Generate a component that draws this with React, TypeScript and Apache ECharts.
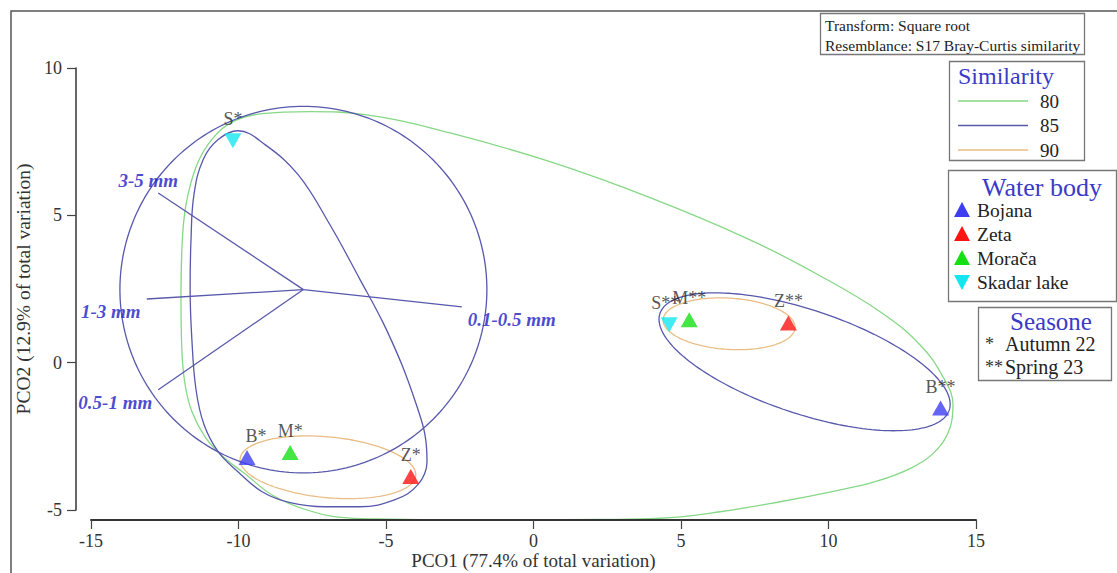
import { useEffect, useRef } from "react";
import * as echarts from "echarts";

// PCO ordination of sediment grain-size composition by water body and season
const SERIF = "'Liberation Serif', 'Times New Roman', serif";

const sampleLabels = ["B*", "Z*", "M*", "S*", "B**", "Z**", "M**", "S**"];
const sampleBody = [0, 1, 2, 3, 0, 1, 2, 3];
const pco1 = [-9.71, -4.16, -8.25, -10.19, 13.8, 8.64, 5.28, 4.6];
const pco2 = [-3.22, -3.86, -3.05, 7.53, -1.54, 1.35, 1.46, 1.29];

const waterBodies = ["Bojana", "Zeta", "Morača", "Skadar lake"];
const waterColors = ["#3d3df2", "#ff1414", "#14e014", "#14e6f0"];
const seasons = ["Autumn 22", "Spring 23"];
const seasonMarks = ["*", "**"];

// Grain-size vectors (origin and tips in PCO space)
const vectorOrigin = [-7.8, 2.48];
const vectorNames = ["3-5 mm", "1-3 mm", "0.5-1 mm", "0.1-0.5 mm"];
const vectorX = [-12.72, -13.11, -12.72, -2.43];
const vectorY = [5.76, 2.16, -0.92, 1.89];
const vectorCircleRadius = 6.22;

// Similarity contours
const similarityLevels = [80, 85, 90];
const levelColors = ["#86d886", "#5858ac", "#e9bd84"];

// 85% group around the autumn samples (outline)
const c85aX = [
  -5.1, -4.46, -3.95, -3.68, -3.61, -3.92, -4.69, -5.88, -7.07, -8.25, -9.2,
  -10.02, -10.69, -11.17, -11.44, -11.58, -11.64, -11.61, -11.51, -11.2,
  -10.69, -10.02, -9.1, -7.98, -6.9, -5.88,
];
const c85aY = [
  1.36, -0.07, -1.49, -2.44, -3.36, -4.14, -4.65, -4.89, -4.89, -4.75, -4.38,
  -3.7, -3.02, -2.1, -0.92, 0.78, 2.48, 4.17, 5.7, 6.89, 7.57, 7.87, 7.4, 6.38,
  4.68, 2.82,
];

// 85% group around the spring samples: centre, semi-axes, rotation (deg)
const c85bCentre = [9.19, 0.03];
const c85bAxes = [5.17, 1.76];
const c85bRot = -18.5;

// 90% groups
const c90cx = [-6.97, 6.63];
const c90cy = [-3.55, 1.32];
const c90a = [2.99, 2.24];
const c90b = [1.03, 0.87];
const c90rot = [-5.5, -3.6];

// 80% group outline
const c80x = [
  -11.95, -11.92, -11.78, -11.41, -10.86, -10.19, -9.2, -7.58, -5.71, -2.83,
  0.56, 3.95, 7.34, 9.71, 11.75, 13.1, 13.88, 14.22, 14.12, 13.68, 12.83,
  11.58, 10.29, 8.36, 6.32, 4.29, 2.25, -0.12, -2.83, -4.86, -6.32, -7.68,
  -8.83, -9.78, -10.56, -11.14, -11.58, -11.81, -11.92,
];
const c80y = [
  2.14, 3.83, 5.36, 6.72, 7.63, 8.18, 8.45, 8.52, 8.42, 7.8, 6.82, 5.6, 4.17,
  2.95, 1.73, 0.61, -0.48, -1.43, -2.21, -2.95, -3.56, -4.04, -4.34, -4.72,
  -5.06, -5.28, -5.32, -5.33, -5.33, -5.31, -5.27, -5.0, -4.51, -3.77, -3.16,
  -2.51, -1.66, -0.75, 0.44,
];

function ellipse(cx: number, cy: number, a: number, b: number, deg: number, n = 180) {
  const t = (deg * Math.PI) / 180;
  const pts: number[][] = [];
  for (let i = 0; i <= n; i++) {
    const u = (2 * Math.PI * i) / n;
    const x = a * Math.cos(u);
    const y = b * Math.sin(u);
    pts.push([cx + x * Math.cos(t) - y * Math.sin(t), cy + x * Math.sin(t) + y * Math.cos(t)]);
  }
  return pts;
}

function closed(xs: number[], ys: number[]) {
  const pts = xs.map((x, i) => [x, ys[i]]);
  pts.push(pts[0], pts[1]);
  return pts;
}

function contourSeries(data: number[][], color: string, smooth: number | boolean = false) {
  return {
    type: "line",
    data,
    smooth,
    symbol: "none",
    showSymbol: false,
    silent: true,
    clip: false,
    z: 2,
    lineStyle: { color, width: 1.3 },
  };
}

const vectorLabelOffsets = [
  [-10, -12],
  [-36, 12],
  [-43, 13],
  [50, 13],
];
const sampleLabelOffsets: Record<string, number[]> = { "B*": [9, 0], "S**": [-4, 0] };

function triangle(cx: number, cy: number, down: boolean) {
  return down
    ? [[cx - 8, cy - 7], [cx + 8, cy - 7], [cx, cy + 8]]
    : [[cx - 8, cy + 7], [cx + 8, cy + 7], [cx, cy - 8]];
}

export default function App() {
  const ref = useRef<HTMLDivElement>(null);

  useEffect(() => {
    if (!ref.current) return;
    const chart = echarts.init(ref.current, undefined, { renderer: "svg" });

    const series: any[] = [];

    // 80% outline
    series.push(contourSeries(closed(c80x, c80y), levelColors[0], 0.4));

    // 85% groups
    series.push(contourSeries(closed(c85aX, c85aY), levelColors[1], 0.4));
    series.push(
      contourSeries(
        ellipse(c85bCentre[0], c85bCentre[1], c85bAxes[0], c85bAxes[1], c85bRot),
        levelColors[1]
      )
    );
    // 90% groups
    c90cx.forEach((cx, i) => {
      series.push(contourSeries(ellipse(cx, c90cy[i], c90a[i], c90b[i], c90rot[i]), levelColors[2]));
    });

    // vector circle
    series.push(
      contourSeries(
        ellipse(vectorOrigin[0], vectorOrigin[1], vectorCircleRadius, vectorCircleRadius, 0, 240),
        levelColors[1]
      )
    );

    // vectors
    vectorNames.forEach((_, i) => {
      series.push({
        type: "line",
        data: [vectorOrigin, [vectorX[i], vectorY[i]]],
        symbol: "none",
        silent: true,
        clip: false,
        z: 2,
        lineStyle: { color: levelColors[1], width: 1.3 },
      });
    });
    series.push({
      type: "scatter",
      symbolSize: 0,
      silent: true,
      z: 4,
      data: vectorNames.map((name, i) => ({
        value: [vectorX[i], vectorY[i]],
        name,
        label: { offset: vectorLabelOffsets[i] },
      })),
      label: {
        show: true,
        position: "inside",
        formatter: "{b}",
        fontFamily: SERIF,
        fontStyle: "italic",
        fontWeight: "bold",
        fontSize: 19,
        color: "#1a1ac4",
      },
    });

    // samples, one series per water body
    waterBodies.forEach((body, w) => {
      const idx = sampleBody.map((b, i) => (b === w ? i : -1)).filter((i) => i >= 0);
      series.push({
        type: "scatter",
        name: body,
        symbol: "triangle",
        symbolRotate: w === 3 ? 180 : 0,
        symbolSize: [17, 15],
        silent: true,
        z: 5,
        itemStyle: { color: waterColors[w] },
        data: idx.map((i) => ({
          value: [pco1[i], pco2[i]],
          name: sampleLabels[i],
          label: { offset: sampleLabelOffsets[sampleLabels[i]] || [0, 0] },
        })),
        label: {
          show: true,
          position: "top",
          distance: 5,
          formatter: "{b}",
          fontFamily: SERIF,
          fontSize: 18,
          color: "#2a2a2a",
        },
      });
    });

    const graphic: any[] = [];
    // outer frame
    graphic.push({
      type: "rect",
      silent: true,
      z: -10,
      shape: { x: 11, y: 11, width: 1300, height: 800 },
      style: { fill: "none", stroke: "#555", lineWidth: 1.5 },
    });

    // transform / resemblance box
    graphic.push({
      type: "rect",
      silent: true,
      shape: { x: 820.5, y: 13.5, width: 264, height: 41 },
      style: { fill: "#fff", stroke: "#777", lineWidth: 1.3 },
    });
    ["Transform: Square root", "Resemblance: S17 Bray-Curtis similarity"].forEach((t, i) => {
      graphic.push({
        type: "text",
        silent: true,
        x: 825,
        y: 25 + i * 20,
        style: { text: t, fontFamily: SERIF, fontSize: 15.5, fill: "#222", verticalAlign: "middle" },
      });
    });

    // similarity legend
    graphic.push({
      type: "rect",
      silent: true,
      shape: { x: 949.5, y: 61.5, width: 135, height: 99 },
      style: { fill: "#fff", stroke: "#777", lineWidth: 1.3 },
    });
    graphic.push({
      type: "text",
      silent: true,
      x: 958,
      y: 76,
      style: { text: "Similarity", fontFamily: SERIF, fontSize: 24, fill: "#3a3ac8", verticalAlign: "middle" },
    });
    similarityLevels.forEach((lv, i) => {
      const y = 101 + i * 24.5;
      graphic.push({
        type: "line",
        silent: true,
        shape: { x1: 958, y1: y, x2: 1028, y2: y },
        style: { stroke: levelColors[i], lineWidth: 1.5 },
      });
      graphic.push({
        type: "text",
        silent: true,
        x: 1040,
        y,
        style: { text: String(lv), fontFamily: SERIF, fontSize: 19, fill: "#222", verticalAlign: "middle" },
      });
    });

    // water body legend
    graphic.push({
      type: "rect",
      silent: true,
      shape: { x: 948.5, y: 170.5, width: 168, height: 131 },
      style: { fill: "#fff", stroke: "#777", lineWidth: 1.3 },
    });
    graphic.push({
      type: "text",
      silent: true,
      x: 1042,
      y: 187,
      style: {
        text: "Water body",
        fontFamily: SERIF,
        fontSize: 26,
        fill: "#3a3ac8",
        align: "center",
        verticalAlign: "middle",
      },
    });
    waterBodies.forEach((body, i) => {
      const y = 210 + i * 24;
      graphic.push({
        type: "polygon",
        silent: true,
        shape: { points: triangle(962, y, i === 3) },
        style: { fill: waterColors[i] },
      });
      graphic.push({
        type: "text",
        silent: true,
        x: 977,
        y,
        style: { text: body, fontFamily: SERIF, fontSize: 19.5, fill: "#222", verticalAlign: "middle" },
      });
    });

    // season legend
    graphic.push({
      type: "rect",
      silent: true,
      shape: { x: 978.5, y: 307.5, width: 133, height: 73 },
      style: { fill: "#fff", stroke: "#777", lineWidth: 1.3 },
    });
    graphic.push({
      type: "text",
      silent: true,
      x: 1051,
      y: 321,
      style: {
        text: "Seasone",
        fontFamily: SERIF,
        fontSize: 25,
        fill: "#3a3ac8",
        align: "center",
        verticalAlign: "middle",
      },
    });
    seasons.forEach((s, i) => {
      const y = 344 + i * 22.5;
      graphic.push({
        type: "text",
        silent: true,
        x: 985,
        y,
        style: { text: seasonMarks[i], fontFamily: SERIF, fontSize: 18, fill: "#333", verticalAlign: "middle" },
      });
      graphic.push({
        type: "text",
        silent: true,
        x: 1005,
        y,
        style: { text: s, fontFamily: SERIF, fontSize: 20, fill: "#222", verticalAlign: "middle" },
      });
    });

    chart.setOption({
      animation: false,
      backgroundColor: "#fff",
      grid: { left: 91, right: 141, top: 68, bottom: 63, outerBoundsMode: "none", containLabel: false },
      xAxis: {
        type: "value",
        min: -15,
        max: 15,
        interval: 5,
        offset: 10,
        z: 10,
        axisLine: { show: true, onZero: false, lineStyle: { color: "#333", width: 2 } },
        axisTick: { show: true, length: 9, lineStyle: { color: "#444", width: 1.2 } },
        axisLabel: { margin: 12, fontSize: 18, color: "#333", fontFamily: SERIF },
        splitLine: { show: false },
        name: "PCO1 (77.4% of total variation)",
        nameLocation: "middle",
        nameGap: 30,
        nameMoveOverlap: false,
        nameTextStyle: { fontSize: 19, color: "#333", fontFamily: SERIF, lineHeight: 20 },
      },
      yAxis: {
        type: "value",
        min: -5,
        max: 10,
        interval: 5,
        offset: 15,
        z: 10,
        axisLine: { show: true, onZero: false, lineStyle: { color: "#333", width: 1.5 } },
        axisTick: { show: true, length: 9, lineStyle: { color: "#444", width: 1.2 } },
        axisLabel: { margin: 14, fontSize: 18, color: "#333", fontFamily: SERIF },
        splitLine: { show: false },
        name: "PCO2 (12.9% of total variation)",
        nameLocation: "middle",
        nameGap: 32,
        nameRotate: 90,
        nameTextStyle: { fontSize: 19.5, color: "#333", fontFamily: SERIF },
      },
      series,
      graphic,
    });

    return () => chart.dispose();
  }, []);

  return (
    <div
      ref={ref}
      style={{ position: "fixed", left: 0, top: 0, width: 1117, height: 573, background: "#fff" }}
    />
  );
}
